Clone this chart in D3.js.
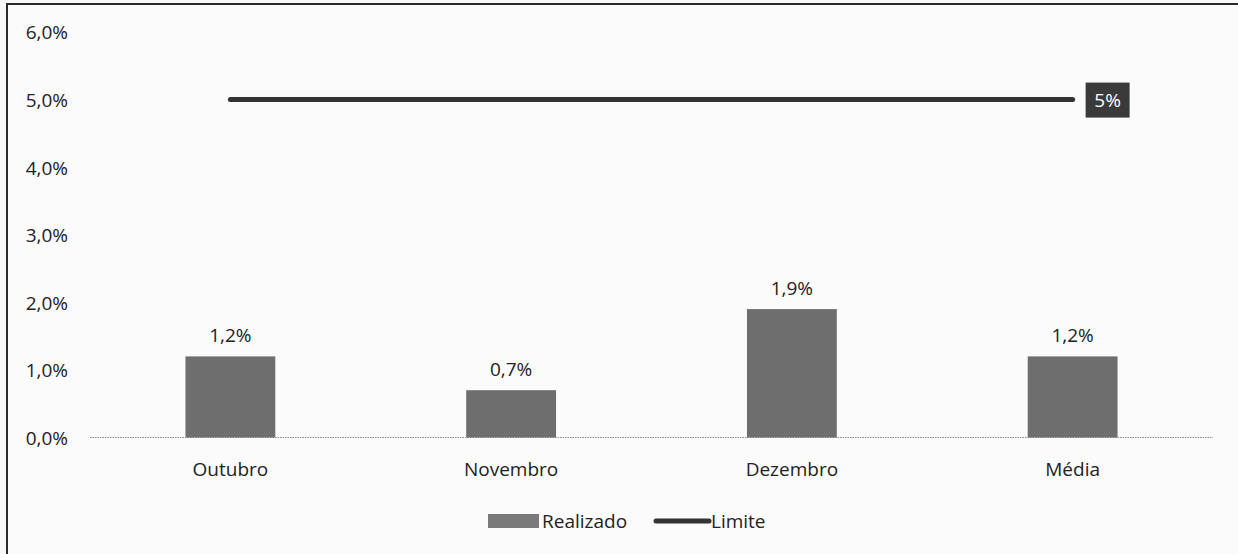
<!DOCTYPE html>
<html>
<head>
<meta charset="utf-8">
<script src="https://cdn.jsdelivr.net/npm/d3@7"></script>
<style>
  html, body { margin: 0; padding: 0; background: #f8f8f8; }
  svg { display: block; }
  text { font-family: "Open Sans", "Noto Sans", sans-serif; fill: #222; }
</style>
</head>
<body>
<svg id="chart" width="1238" height="554"></svg>
<script>
const categories = ["Outubro", "Novembro", "Dezembro", "Média"];
const realizado = [1.2, 0.7, 1.9, 1.2];
const limite = [5, 5, 5, 5];
const yTicks = [0, 1, 2, 3, 4, 5, 6];
const limiteLabel = "5%";
const seriesNames = ["Realizado", "Limite"];

const fmt = v => d3.format(".1f")(v).replace(".", ",") + "%";

const svg = d3.select("#chart");
const W = 1238, H = 554;
const FS = 19;

// frame (scanned chart border)
svg.append("rect").attr("x", 7).attr("y", 4).attr("width", W).attr("height", H)
  .attr("fill", "#fbfbfb").attr("stroke", "#2a2a2a").attr("stroke-width", 2);

const x = d3.scaleBand().domain(categories).range([90, 1213])
  .paddingInner(0.68).paddingOuter(0.34);
const y = d3.scaleLinear().domain([0, 6]).range([437.5, 32]);

// y axis labels
const yAxis = d3.axisLeft(y).tickValues(yTicks).tickFormat(fmt).tickSize(0).tickPadding(0);
const gy = svg.append("g").attr("transform", "translate(68,0)").call(yAxis);
gy.select(".domain").remove();
gy.selectAll("text").attr("font-size", FS).attr("fill", "#222")
  .style("font-family", '"Open Sans", sans-serif').attr("dy", "0.36em");

// baseline
svg.append("line").attr("x1", 90).attr("x2", 1213).attr("y1", y(0)).attr("y2", y(0))
  .attr("stroke", "#8a8a8a").attr("stroke-width", 1.2).attr("stroke-dasharray", "1.5,1");

// x axis labels
const xAxis = d3.axisBottom(x).tickSize(0).tickPadding(0);
const gx = svg.append("g").attr("transform", `translate(0,${y(0)})`).call(xAxis);
gx.select(".domain").remove();
gx.selectAll("text").attr("font-size", FS).attr("fill", "#222")
  .style("font-family", '"Open Sans", sans-serif').attr("y", 38).attr("dy", 0);

// bars
svg.append("g").selectAll("rect").data(realizado).join("rect")
  .attr("x", (d, i) => x(categories[i]))
  .attr("width", x.bandwidth())
  .attr("y", d => y(d))
  .attr("height", d => y(0) - y(d))
  .attr("fill", "#6e6e6e");

// bar labels
svg.append("g").selectAll("text").data(realizado).join("text")
  .attr("x", (d, i) => x(categories[i]) + x.bandwidth() / 2)
  .attr("y", d => y(d) - 14)
  .attr("text-anchor", "middle").attr("font-size", FS)
  .text(d => fmt(d));

// limite line
const line = d3.line()
  .x((d, i) => x(categories[i]) + x.bandwidth() / 2)
  .y(d => y(d));
svg.append("path").datum(limite).attr("d", line)
  .attr("fill", "none").attr("stroke", "#333").attr("stroke-width", 5)
  .attr("stroke-linecap", "round");

// limite label (last point)
const lastX = x(categories[categories.length - 1]) + x.bandwidth() / 2;
const lastY = y(limite[limite.length - 1]);
svg.append("rect").attr("x", lastX + 13).attr("y", lastY - 17)
  .attr("width", 44).attr("height", 35).attr("fill", "#3a3a3a");
svg.append("text").attr("x", lastX + 35).attr("y", lastY + 7)
  .attr("text-anchor", "middle").attr("font-size", FS).style("fill", "#fff")
  .text(limiteLabel);

// legend
const lg = svg.append("g");
lg.append("rect").attr("x", 488).attr("y", 514).attr("width", 51).attr("height", 14)
  .attr("fill", "#7a7a7a");
lg.append("text").attr("x", 542).attr("y", 528).attr("font-size", FS).text(seriesNames[0]);
lg.append("line").attr("x1", 656).attr("x2", 709).attr("y1", 521).attr("y2", 521)
  .attr("stroke", "#333").attr("stroke-width", 5).attr("stroke-linecap", "round");
lg.append("text").attr("x", 711).attr("y", 528).attr("font-size", FS).text(seriesNames[1]);
</script>
</body>
</html>
